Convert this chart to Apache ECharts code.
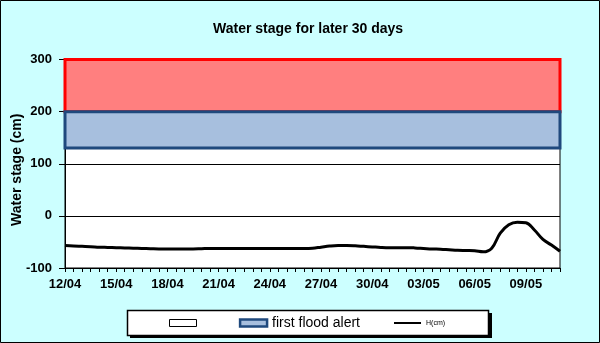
<!DOCTYPE html>
<html>
<head>
<meta charset="utf-8">
<script src="https://cdn.jsdelivr.net/npm/echarts@6/dist/echarts.min.js"></script>
<style>
html,body{margin:0;padding:0;background:#CCFFFF;}
#c{width:600px;height:343px;}
</style>
</head>
<body>
<div id="c"></div>
<script>
// Half-day time steps (date hour)
var categories = [
 '12/04 00','12/04 12','13/04 00','13/04 12','14/04 00','14/04 12','15/04 00','15/04 12',
 '16/04 00','16/04 12','17/04 00','17/04 12','18/04 00','18/04 12','19/04 00','19/04 12',
 '20/04 00','20/04 12','21/04 00','21/04 12','22/04 00','22/04 12','23/04 00','23/04 12',
 '24/04 00','24/04 12','25/04 00','25/04 12','26/04 00','26/04 12','27/04 00','27/04 12',
 '28/04 00','28/04 12','29/04 00','29/04 12','30/04 00','30/04 12','01/05 00','01/05 12',
 '02/05 00','02/05 12','03/05 00','03/05 12','04/05 00','04/05 12','05/05 00','05/05 12',
 '06/05 00','06/05 12','07/05 00','07/05 12','08/05 00','08/05 12','09/05 00','09/05 12',
 '10/05 00','10/05 12','11/05 00'
];
// Water stage H (cm)
var waterStage = [
 -57,-58,-58.5,-59,-60,-60.5,-61,-61.5,
 -62,-62.5,-63,-63.5,-63.5,-63.5,-63.5,-63.5,
 -63,-62.5,-62.5,-62.5,-62.5,-62.5,-62.5,-62.5,
 -62.5,-62.5,-62.5,-62.5,-62.5,-62,-60,-58,
 -57,-57,-57.5,-58.5,-59.5,-60.5,-61,-61,
 -61,-61.5,-62.5,-63.5,-64,-65,-66,-66.5,
 -67,-69,-62,-33,-17,-12,-13,-27,
 -45,-56,-68
];
// Alert band levels (cm)
var firstAlertBand = [130, 200];
var upperBand = [200, 300];
var yMin = -100, yMax = 300, yStep = 100;
var seriesNames = [' ', 'first flood alert', 'H(cm)'];

var nulls = categories.map(function(){ return null; });
var chart = echarts.init(document.getElementById('c'), null, {renderer:'canvas'});
var FONT = 'Arial, Liberation Sans, sans-serif';
var bold13 = {color:'#000', fontFamily:FONT, fontWeight:'bold', fontSize:13};

chart.setOption({
  backgroundColor:'#CCFFFF',
  animation:false,
  title:{
    text:'Water stage for later 30 days',
    left:208, top:17,
    textStyle:{color:'#000', fontFamily:FONT, fontWeight:'bold', fontSize:14}
  },
  graphic:[
    {type:'rect', shape:{x:0.5,y:0.5,width:599,height:342}, style:{fill:'none', stroke:'#000', lineWidth:1}, z:100},
    {type:'rect', shape:{x:130,y:313,width:362,height:25}, style:{fill:'#000'}, z:-1},
    {type:'rect', shape:{x:127.5,y:310.5,width:361,height:25}, style:{fill:'#fff', stroke:'#000', lineWidth:1.5}, z:-1}
  ],
  legend:{
    left:169, top:316, padding:0,
    itemWidth:27, itemHeight:7, itemGap:34,
    selectedMode:false,
    data:[
      {name:seriesNames[0], icon:'rect', itemStyle:{color:'#fff', borderColor:'#000', borderWidth:1}, textStyle:{fontSize:12}},
      {name:seriesNames[1], icon:'rect', itemStyle:{color:'#A7BFDE', borderColor:'#1F497D', borderWidth:2.5},
        textStyle:{fontSize:14, color:'#000', fontFamily:FONT, width:100}},
      {name:seriesNames[2], icon:'path://M0,0L0.01,0ZM0,2.5L27,2.5L27,4.5L0,4.5ZM27,7L26.99,7Z',
        itemStyle:{color:'#000'}, textStyle:{fontSize:7, color:'#000', fontFamily:FONT}}
    ]
  },
  grid:{
    left:65, top:59.5, width:495, height:208.5,
    containLabel:false, outerBoundsMode:'none',
    show:true, backgroundColor:'#fff', borderColor:'#000', borderWidth:1
  },
  xAxis:{
    type:'category', data:categories, boundaryGap:false,
    axisLine:{onZero:false, lineStyle:{color:'#000', width:1}},
    axisTick:{interval:0, length:4, lineStyle:{color:'#000'}},
    axisLabel:Object.assign({interval:5, margin:10, formatter:function(v){return v.split(' ')[0];}}, bold13),
    splitLine:{show:false}
  },
  yAxis:{
    type:'value', min:yMin, max:yMax, interval:yStep,
    name:'Water stage (cm)', nameLocation:'middle', nameGap:41, nameMoveOverlap:false,
    nameTextStyle:{color:'#000', fontFamily:FONT, fontWeight:'bold', fontSize:14, padding:[0,0,0,-12]},
    axisLine:{show:true, onZero:false, lineStyle:{color:'#000', width:1}},
    axisTick:{show:true, length:6, lineStyle:{color:'#000'}},
    axisLabel:Object.assign({margin:13}, bold13),
    splitLine:{show:true, lineStyle:{color:'#000', width:1}}
  },
  series:[
    {
      name:seriesNames[0], type:'line', data:nulls, symbol:'none',
      itemStyle:{color:'#fff'},
      markArea:{silent:true, itemStyle:{color:'#FF7F7F', borderColor:'#FF0000', borderWidth:3},
        data:[[{yAxis:upperBand[0]},{yAxis:upperBand[1]}]]},
      z:3
    },
    {
      name:seriesNames[1], type:'line', data:nulls, symbol:'none',
      itemStyle:{color:'#A7BFDE'},
      markArea:{silent:true, itemStyle:{color:'#A7BFDE', borderColor:'#1F497D', borderWidth:3},
        data:[[{yAxis:firstAlertBand[0]},{yAxis:firstAlertBand[1]}]]},
      z:2
    },
    {
      name:seriesNames[2], type:'line', data:waterStage, symbol:'none', smooth:0.4,
      itemStyle:{color:'#000'},
      lineStyle:{color:'#000', width:3},
      z:5
    }
  ]
});
</script>
</body>
</html>
